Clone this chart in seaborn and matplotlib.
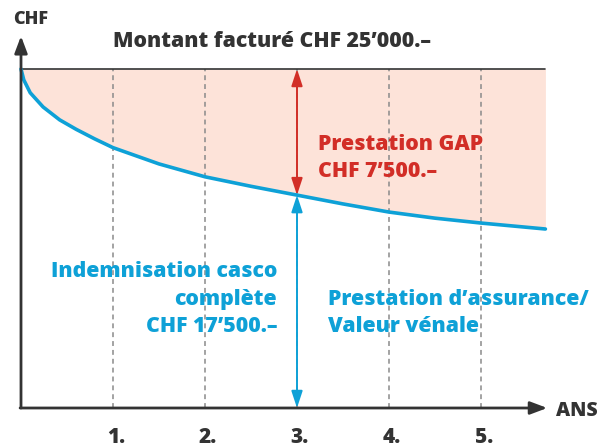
import numpy as np
import pandas as pd
import matplotlib
matplotlib.use("Agg")
import matplotlib.pyplot as plt
import seaborn as sns

# curve (years, CHF)
years = [0, 0.03, 0.1, 0.24, 0.42, 0.6, 0.8, 1.0, 1.5, 2.0, 2.5, 3.0, 3.5, 4.0, 4.5, 5.0, 5.7]
value = [25000, 24200, 23250, 22200, 21250, 20550, 19850, 19200, 18000, 17050,
         16350, 15700, 15050, 14450, 14000, 13640, 13200]
invoiced = 25000
year_ticks = [1, 2, 3, 4, 5]
tick_labels = ["1.", "2.", "3.", "4.", "5."]
marker_year = 3

gap_lines = ["Prestation GAP", "CHF 7’500.–"]
casco_lines = ["Indemnisation casco", "complète", "CHF 17’500.–"]
market_lines = ["Prestation d’assurance/", "Valeur vénale"]

DARK = "#333333"
BLUE = "#0ea1d7"
RED = "#d22e27"
FILL = "#fde3d9"

sns.set_theme(style="white")
plt.rcParams['font.family'] = ['Open Sans', 'DejaVu Sans']

fig = plt.figure(figsize=(6.04, 4.48), dpi=100)
ax = fig.add_axes([0, 0, 1, 1])
# pixel mapping: x=0 at 21px, 92px per year; y=0 at 408px from top, 13.56px per 1000
PX_Y = 13.56 / 1000
ax.set_xlim(-21 / 92, (604 - 21) / 92)
ax.set_ylim(-40 / PX_Y, (448 - 40) / PX_Y)
ax.axis("off")

df = pd.DataFrame({"year": years, "value": value})
x_end = years[-1]

ax.fill_between(years, value, invoiced, color=FILL, lw=0, zorder=1)
for t in year_ticks:
    ax.plot([t, t], [0, invoiced], color="#8a8a8a", lw=1.1, ls=(0, (3.2, 2.6)), zorder=2)
ax.plot([0, x_end], [invoiced, invoiced], color=DARK, lw=1.2, zorder=3)
sns.lineplot(data=df, x="year", y="value", ax=ax, color=BLUE, lw=2.6, zorder=4)

# axes with arrows
head = "-|>,head_width=0.32,head_length=0.85"
ax.annotate("", xy=(0, 27430), xytext=(0, 0),
            arrowprops=dict(arrowstyle=head, color=DARK, lw=2, shrinkA=0, shrinkB=0), zorder=5)
ax.annotate("", xy=(5.72, 0), xytext=(-0.01, 0),
            arrowprops=dict(arrowstyle=head, color=DARK, lw=2, shrinkA=0, shrinkB=0), zorder=5)

# double arrows at year 3
yv = value[years.index(marker_year)]
dbl = "<|-|>,head_width=0.28,head_length=0.85"
ax.annotate("", xy=(marker_year, yv), xytext=(marker_year, invoiced),
            arrowprops=dict(arrowstyle=dbl, color=RED, lw=1.4, shrinkA=0, shrinkB=0), zorder=6)
ax.annotate("", xy=(marker_year, 0), xytext=(marker_year, yv),
            arrowprops=dict(arrowstyle=dbl, color=BLUE, lw=1.4, shrinkA=0, shrinkB=0), zorder=6)

fs = 15.3
step = 27.5 / PX_Y


def block(x, y, lines, color, ha):
    for i, line in enumerate(lines):
        ax.text(x, y - i * step, line, color=color, fontsize=fs, fontweight="heavy",
                ha=ha, va="baseline", zorder=7)


ax.text(-0.087, 28320, "CHF", color=DARK, fontsize=13, fontweight="heavy", ha="left", va="baseline")
ax.text(1.0, 26620, "Montant facturé CHF 25’000.–", color=DARK, fontsize=fs, fontweight="heavy",
        ha="left", va="baseline")
ax.text(5.815, -590, "ANS", color=DARK, fontsize=14, fontweight="heavy", ha="left", va="baseline")
for t, lab in zip(year_ticks, tick_labels):
    ax.text(t + 0.03, -2580, lab, color=DARK, fontsize=15, fontweight="heavy", ha="center", va="baseline")

block(3.228, 19030, gap_lines, RED, "left")
block(2.783, 9660, casco_lines, BLUE, "right")
block(3.337, 7600, market_lines, BLUE, "left")

fig.savefig("out.png", dpi=100)
